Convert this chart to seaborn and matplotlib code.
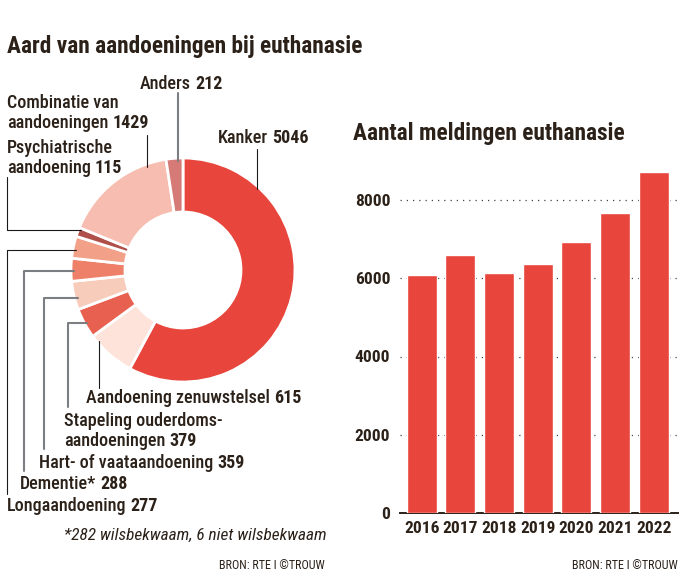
import matplotlib
matplotlib.use("Agg")
import matplotlib.pyplot as plt
import seaborn as sns
import pandas as pd
import numpy as np
from matplotlib import font_manager as fm

# ---------------- data ----------------
slice_names = ["Kanker", "Aandoening zenuwstelsel", "Stapeling ouderdoms-|aandoeningen",
               "Hart- of vaataandoening", "Dementie*", "Longaandoening",
               "Psychiatrische|aandoening", "Combinatie van|aandoeningen", "Anders"]
slice_counts = [5046, 615, 379, 359, 288, 277, 115, 1429, 212]
slice_colors = ["#E8453C", "#FDE3DA", "#E8604F", "#F7CCBA", "#EE7F68",
                "#F2A088", "#B0504A", "#F6BDB0", "#D57A76"]
years = ["2016", "2017", "2018", "2019", "2020", "2021", "2022"]
meldingen = [6091, 6585, 6126, 6361, 6938, 7666, 8720]
y_ticks = [0, 2000, 4000, 6000, 8000]
footnote = "*282 wilsbekwaam, 6 niet wilsbekwaam"
source = "BRON: RTE I \u00a9TROUW"
title_left = "Aard van aandoeningen bij euthanasie"
title_right = "Aantal meldingen euthanasie"

sns.set_theme(style="white")

# ---------------- font picking ----------------
ttf = fm.fontManager.ttflist
names = {f.name for f in ttf}
FAM, STRETCH = "Liberation Sans", "normal"
found = False
for n in ["Roboto Condensed", "Archivo Narrow", "Liberation Sans Narrow", "Noto Sans Condensed"]:
    if n in names:
        FAM, STRETCH = n, "normal"
        found = True
        break
if not found:
    for fam in ["Noto Sans", "Roboto", "Open Sans", "DejaVu Sans"]:
        if any(f.name == fam and "condensed" in str(f.stretch) for f in ttf):
            FAM, STRETCH = fam, "condensed"
            break
plt.rcParams["font.family"] = [FAM, "DejaVu Sans"]

TXT = "#2B2119"
W, H = 687, 583
fig = plt.figure(figsize=(W / 100, H / 100), dpi=100)
fig.patch.set_facecolor("white")

# ---------------- donut ----------------
CX, CY, R, RIN = 183, 270, 112, 58
S = 100.0  # px per data unit in pie axes
ax_p = fig.add_axes([(CX - 150) / W, (H - CY - 150) / H, 300 / W, 300 / H])
ax_p.pie(slice_counts, colors=slice_colors, startangle=90, counterclock=False,
         radius=R / S, wedgeprops=dict(width=(R - RIN) / S, edgecolor="white", linewidth=2))
ax_p.set_xlim(-1.5, 1.5)
ax_p.set_ylim(-1.5, 1.5)
ax_p.set_aspect("equal")
ax_p.axis("off")

# overlay axes in pixel coordinates (y downwards) for labels
ov = fig.add_axes([0, 0, 1, 1], zorder=5)
ov.set_xlim(0, W)
ov.set_ylim(H, 0)
ov.axis("off")
ov.patch.set_alpha(0)

BLACK, GREY = "#1a1a1a", "#7b7e83"
LFS = 13


def edge_y(x, top=True, inset=3):
    d = np.sqrt(max(R ** 2 - (x - CX) ** 2, 0)) - inset
    return CY - d if top else CY + d


def edge_x(y, inset=3):
    d = np.sqrt(max(R ** 2 - (y - CY) ** 2, 0)) - inset
    return CX - d


def label(x, baseline, name, value, fs=LFS, dy=20):
    lines = name.split("|")
    n = len(lines)
    for i, ln in enumerate(lines):
        yb = baseline - (n - 1 - i) * dy
        t = ov.text(x, yb, ln, fontsize=fs, color=TXT, ha="left", va="baseline",
                    fontstretch=STRETCH, fontweight="medium")
    ov.annotate(f"{value}", xy=(1, yb), xycoords=(t, ov.transData),
                xytext=(4, 0), textcoords="offset pixels", fontsize=fs,
                fontweight="bold", color=TXT, ha="left", va="baseline",
                fontstretch=STRETCH)


label(218, 143, slice_names[0], slice_counts[0])
label(140, 89, slice_names[8], slice_counts[8])
label(7, 128, slice_names[7], slice_counts[7])
label(7, 173, slice_names[6], slice_counts[6])
label(86, 403, slice_names[1], slice_counts[1])
label(64, 446, slice_names[2], slice_counts[2])
label(39, 468, slice_names[3], slice_counts[3])
label(20, 489, slice_names[4], slice_counts[4])
label(7, 511, slice_names[5], slice_counts[5])

# vertical leaders from top
ov.plot([257, 257], [149, edge_y(257)], color=BLACK, lw=0.8)
ov.plot([178, 178], [93, edge_y(178)], color=GREY, lw=1.5)
ov.plot([147, 147], [135, edge_y(147)], color=BLACK, lw=0.8)
# bottom leader (zenuwstelsel)
ov.plot([99, 99], [388, edge_y(99, top=False)], color=BLACK, lw=0.8)
# elbow leaders
ov.plot([7, 7, edge_x(230)], [177, 230, 230], color=BLACK, lw=0.8)
ov.plot([7, 7, edge_x(250)], [494, 250, 250], color=BLACK, lw=0.8)
ov.plot([24, 24, edge_x(271)], [471, 271, 271], color=GREY, lw=1.5)
ov.plot([44, 44, edge_x(298)], [449, 298, 298], color=GREY, lw=1.5)
ov.plot([68, 68, edge_x(323)], [407, 323, 323], color=GREY, lw=1.5)

ov.text(64, 540, footnote, fontsize=12.4, style="italic", color=TXT,
        ha="left", va="baseline", fontstretch=STRETCH)
ov.text(325, 569, source, fontsize=8.7, color=TXT, ha="right", va="baseline",
        fontstretch=STRETCH)
ov.text(678, 569, source, fontsize=8.7, color=TXT, ha="right", va="baseline",
        fontstretch=STRETCH)
ov.text(7, 53, title_left, fontsize=16.8, fontweight="black", color=TXT,
        ha="left", va="baseline", fontstretch=STRETCH)
ov.text(353, 140, title_right, fontsize=16.8, fontweight="black", color=TXT,
        ha="left", va="baseline", fontstretch=STRETCH)

# ---------------- bar chart ----------------
top_val = 9000
y0, y8 = 513, 200
ppu = (y0 - y8) / 8000
ytop = y0 - top_val * ppu
ax_b = fig.add_axes([400 / W, (H - y0) / H, 278 / W, (y0 - ytop) / H])
df = pd.DataFrame({"jaar": years, "meldingen": meldingen})
sns.barplot(data=df, x="jaar", y="meldingen", color="#E8453C", saturation=1,
            width=0.78, ax=ax_b, zorder=3)
ax_b.set_xlim(-0.56, 6.63)
ax_b.set_ylim(0, top_val)
ax_b.set_yticks(y_ticks)
ax_b.set_yticklabels([str(v) for v in y_ticks])
ax_b.set_xlabel("")
ax_b.set_ylabel("")
ax_b.yaxis.grid(True, linestyle=(0, (1, 4)), color="#444444", linewidth=0.9)
ax_b.set_axisbelow(True)
for s in ["top", "right", "left"]:
    ax_b.spines[s].set_visible(False)
ax_b.spines["bottom"].set_color("#2B2119")
ax_b.spines["bottom"].set_linewidth(1.4)
ax_b.tick_params(axis="both", length=0, labelsize=12.5, labelcolor=TXT)
ax_b.tick_params(axis="y", pad=7)
ax_b.tick_params(axis="x", pad=6)
for lab in ax_b.get_xticklabels() + ax_b.get_yticklabels():
    lab.set_fontweight("bold")
    lab.set_fontstretch(STRETCH)
ax_b.patch.set_alpha(0)

fig.savefig("out.png", dpi=100, facecolor="white")
